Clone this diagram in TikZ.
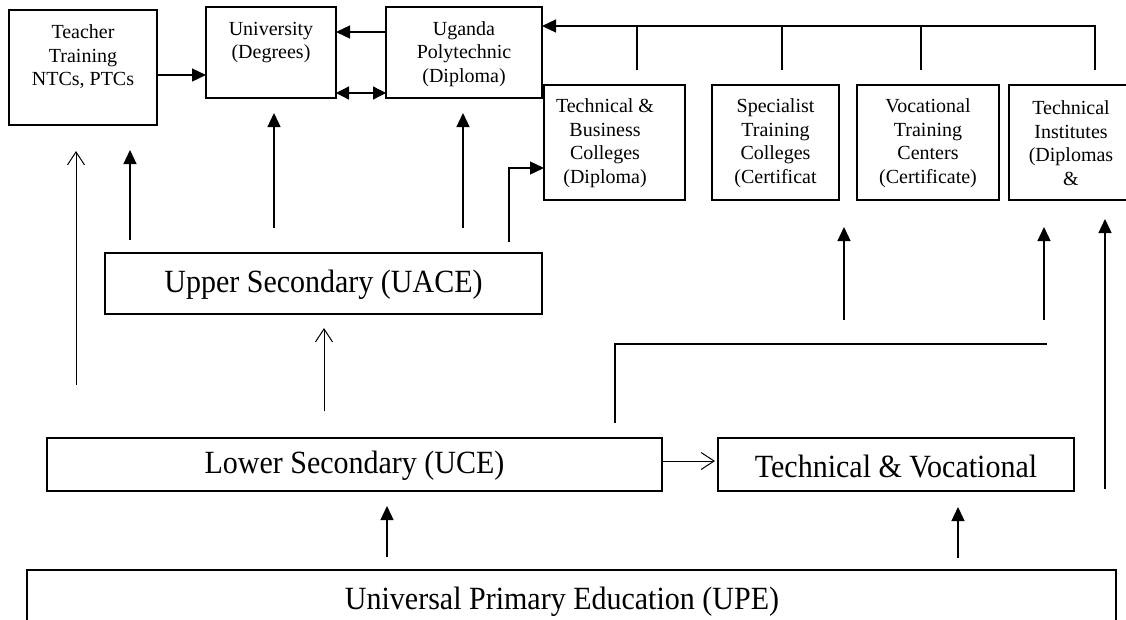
\documentclass[tikz,border=0pt]{standalone}
\usepackage{fontspec}
\setmainfont{Liberation Serif}
\usetikzlibrary{arrows.meta}
\begin{document}
\begin{tikzpicture}[x=1pt,y=-1pt,
  box/.style={draw,line width=1.4pt,rectangle,inner sep=0pt,outer sep=0pt},
  small/.style={font=\fontsize{20}{23.5}\selectfont,align=center,inner sep=0pt},
  big/.style={font=\fontsize{30}{33}\selectfont,inner sep=0pt},
  conn/.style={line width=1.3pt},
  fa/.style={conn,-{Triangle[length=14pt,width=13pt]}},
  fab/.style={conn,{Triangle[length=13pt,width=13pt]}-{Triangle[length=13pt,width=13pt]}},
  oa/.style={line width=1pt,-{Straight Barb[length=13pt,width=17pt]}},
  plain/.style={conn}]
\useasboundingbox (0,0) rectangle (1126,619);
\clip (0,0) rectangle (1126,619);
% boxes
\node[box,minimum width=148pt,minimum height=115pt] (tt) at (83,67.5) {};
\node[box,minimum width=130pt,minimum height=91pt] (uni) at (271,52.5) {};
\node[box,minimum width=156pt,minimum height=91pt] (poly) at (464,52.5) {};
\node[box,minimum width=141pt,minimum height=115pt] (tb) at (614.5,142.5) {};
\node[box,minimum width=127pt,minimum height=115pt] (stc) at (775.5,142.5) {};
\node[box,minimum width=142pt,minimum height=115pt] (vtc) at (928,142.5) {};
\node[box,minimum width=124pt,minimum height=115pt] (ti) at (1071,142.5) {};
\node[box,minimum width=437pt,minimum height=61pt] (us) at (323.5,283.5) {};
\node[box,minimum width=615pt,minimum height=53pt] (ls) at (354.5,464.5) {};
\node[box,minimum width=356pt,minimum height=53pt] (tv) at (896,464.5) {};
\node[box,minimum width=1089pt,minimum height=62pt] (upe) at (571.5,601) {};
% texts
\node[small] (ttt) at (83,57) {Teacher\\Training\\NTCs, PTCs};
\node[small] (unit) at (271,42.5) {University\\(Degrees)};
\node[small] (polyt) at (464,54) {Uganda\\Polytechnic\\(Diploma)};
\node[small] (tbt) at (605,143) {Technical \&\\Business\\Colleges\\(Diploma)};
\node[small] (stct) at (775.5,143) {Specialist\\Training\\Colleges\\(Certificat};
\node[small] (vtct) at (928,143) {Vocational\\Training\\Centers\\(Certificate)};
\node[small] (tit) at (1071,143) {Technical\\Institutes\\(Diplomas\\\&};
\node[big] (ust) at (323.5,285) {\scalebox{1}[1.08]{Upper Secondary (UACE)}};
\node[big] (lst) at (354.5,466) {\scalebox{1}[1.08]{Lower Secondary (UCE)}};
\node[big] (tvt) at (896,466) {\scalebox{1}[1.08]{Technical \& Vocational}};
\node[big,anchor=base] (upet) at (562,609) {\scalebox{1}[1.08]{Universal Primary Education (UPE)}};
% free ends
\coordinate (a1) at (76,385);   \coordinate (a1t) at (76,151);
\coordinate (a2) at (130,240);  \coordinate (a2t) at (130,150);
\coordinate (a3) at (274,228);  \coordinate (a3t) at (274,113);
\coordinate (a4) at (463,228);  \coordinate (a4t) at (463,113);
\coordinate (a5) at (509,242);
\coordinate (a6) at (324,411);  \coordinate (a6t) at (324,328);
\coordinate (a7) at (844,320);  \coordinate (a7t) at (844,227);
\coordinate (a8) at (1044,320); \coordinate (a8t) at (1044,227);
\coordinate (a9) at (1105,489); \coordinate (a9t) at (1105,219);
\coordinate (e1) at (615,423);  \coordinate (e2) at (1047,344);
\coordinate (u1) at (387,557);  \coordinate (u1t) at (387,506);
\coordinate (u2) at (958,558);  \coordinate (u2t) at (958,507);
\coordinate (d1) at (637,70); \coordinate (d2) at (782,70);
\coordinate (d3) at (921,70); \coordinate (d4) at (1095,70);
% top connectors
\draw[fa] (tt.east |- 0,75) -- (uni.west |- 0,75);
\draw[fa] (poly.west |- 0,32) -- (uni.east |- 0,32);
\draw[fab] (uni.east |- 0,93) -- (poly.west |- 0,93);
\draw[fa] (d4) |- (poly.east |- 0,26);
\draw[plain] (d1) -- (d1 |- 0,26);
\draw[plain] (d2) -- (d2 |- 0,26);
\draw[plain] (d3) -- (d3 |- 0,26);
% vertical arrows
\draw[oa] (a1) -- (a1t);
\draw[fa] (a2) -- (a2t);
\draw[fa] (a3) -- (a3t);
\draw[fa] (a4) -- (a4t);
\draw[fa] (a5) |- (tb.west |- 0,168);
\draw[oa] (a6) -- (a6t);
\draw[fa] (a7) -- (a7t);
\draw[fa] (a8) -- (a8t);
\draw[fa] (a9) -- (a9t);
\draw[plain] (e1) |- (e2);
\draw[oa] (ls.east |- 0,461) -- ([xshift=-3pt]tv.west |- 0,461);
\draw[fa] (u1) -- (u1t);
\draw[fa] (u2) -- (u2t);
\end{tikzpicture}
\end{document}
